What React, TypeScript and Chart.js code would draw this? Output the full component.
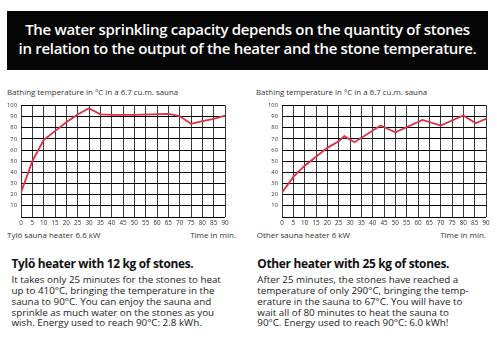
import React, { useEffect, useRef } from "react";
import { Chart, registerables } from "chart.js";

Chart.register(...registerables);

// ---- data ----
const xTicks = [0, 5, 10, 15, 20, 25, 30, 35, 40, 45, 50, 55, 60, 65, 70, 75, 80, 85, 90];
const yTicks = [10, 20, 30, 40, 50, 60, 70, 80, 90, 100];

const tyloTimes = [0, 5, 10, 15, 20, 25, 30, 35, 40, 50, 65, 70, 75, 80, 85, 90];
const tyloTemps = [22, 50, 69, 77, 85, 92, 97.5, 92, 91.5, 91.5, 92.5, 90.5, 83.5, 86, 88, 91];

const otherTimes = [0, 5, 10, 15, 20, 25, 27.5, 32, 43.5, 50, 62, 70, 80, 85.5, 90];
const otherTemps = [22, 36, 46, 54, 62, 68, 72.5, 67, 82, 76, 87, 82, 91, 84, 88];

const bannerLines = [
  "The water sprinkling capacity depends on the quantity of stones",
  "in relation to the output of the heater and the stone temperature.",
];
const chartTitle = "Bathing temperature in \u00B0C in a 6.7 cu.m. sauna";
const leftCaption = "Tyl\u00F6 sauna heater 6.6 kW";
const rightCaption = "Other sauna heater 6 kW";
const axisCaption = "Time in min.";
const leftHeading = "Tyl\u00F6 heater with 12 kg of stones.";
const rightHeading = "Other heater with 25 kg of stones.";
const leftBody = [
  "It takes only 25 minutes for the stones to heat",
  "up to 410\u00B0C, bringing the temperature in the",
  "sauna to 90\u00B0C. You can enjoy the sauna and",
  "sprinkle as much water on the stones as you",
  "wish. Energy used to reach 90\u00B0C: 2.8 kWh.",
];
const rightBody = [
  "After 25 minutes, the stones have reached a",
  "temperature of only 290\u00B0C, bringing the temp-",
  "erature in the sauna to 67\u00B0C. You will have to",
  "wait all of 80 minutes to heat the sauna to",
  "90\u00B0C. Energy used to reach 90\u00B0C: 6.0 kWh!",
];

const FONT = "'Open Sans', 'Noto Sans', sans-serif";

function TempChart({ times, temps, left }: { times: number[]; temps: number[]; left: number }) {
  const ref = useRef<HTMLCanvasElement | null>(null);
  useEffect(() => {
    if (!ref.current) return;
    const chart = new Chart(ref.current, {
      type: "line",
      data: {
        datasets: [
          {
            data: times.map((t, i) => ({ x: t, y: temps[i] })),
            borderColor: "#de2f45",
            borderWidth: 1.8,
            pointRadius: 0,
            tension: 0,
            fill: false,
          },
        ],
      },
      options: {
        animation: false,
        responsive: false,
        maintainAspectRatio: false,
        layout: { padding: { left: 0, right: 10, top: 6, bottom: 0 } },
        plugins: { legend: { display: false }, tooltip: { enabled: false }, title: { display: false } },
        scales: {
          x: {
            type: "linear",
            min: 0,
            max: 90,
            afterBuildTicks: (s: any) => {
              s.ticks = xTicks.map((v) => ({ value: v }));
            },
            afterFit: (s: any) => {
              s.height = 11;
            },
            grid: { color: "#3a3a3a", lineWidth: 1, drawTicks: false },
            border: { display: false },
            ticks: {
              padding: 2,
              color: "#333",
              font: { family: FONT, size: 6.3 },
              maxRotation: 0,
              autoSkip: false,
              callback: (v: any) => String(v),
            },
          },
          y: {
            type: "linear",
            min: 0,
            max: 100,
            afterBuildTicks: (s: any) => {
              s.ticks = [0, ...yTicks].map((v) => ({ value: v }));
            },
            afterFit: (s: any) => {
              s.width = 21;
            },
            grid: { color: "#000", lineWidth: 1, drawTicks: false },
            border: { display: false },
            ticks: {
              padding: 4,
              color: "#333",
              font: { family: FONT, size: 5.8 },
              autoSkip: false,
              callback: (v: any) => (v === 0 ? "" : String(v)),
            },
          },
        },
      },
    });
    return () => chart.destroy();
  }, [times, temps]);
  return (
    <canvas
      ref={ref}
      width={235}
      height={130}
      style={{ position: "absolute", left, top: 98, width: 235, height: 130 }}
    />
  );
}

const abs = (l: number, t: number, extra: any = {}) => ({ position: "absolute" as const, left: l, top: t, ...extra });

export default function App() {
  return (
    <div
      style={{
        position: "fixed",
        left: 0,
        top: 0,
        width: 497,
        height: 344,
        background: "#fff",
        overflow: "hidden",
        fontFamily: FONT,
        color: "#222",
      }}
    >
      <div
        style={abs(7, 11, {
          width: 481,
          height: 59,
          background: "#050505",
          color: "#fff",
          textAlign: "center",
          fontWeight: 600,
          fontSize: 15,
          lineHeight: "19.3px",
          paddingTop: 9,
          boxSizing: "border-box",
          letterSpacing: -0.3,
          whiteSpace: "nowrap",
        })}
      >
        {bannerLines.map((l, i) => (
          <div key={i}>{l}</div>
        ))}
      </div>

      <div style={abs(7, 87, { fontSize: 7.9, lineHeight: "10px", color: "#333", whiteSpace: "nowrap" })}>{chartTitle}</div>
      <div style={abs(256, 87, { fontSize: 7.9, lineHeight: "10px", color: "#333", whiteSpace: "nowrap" })}>{chartTitle}</div>

      <TempChart times={tyloTimes} temps={tyloTemps} left={0} />
      <TempChart times={otherTimes} temps={otherTemps} left={261} />

      <div style={abs(7, 230, { fontSize: 8, lineHeight: "10px", color: "#333", whiteSpace: "nowrap" })}>{leftCaption}</div>
      <div style={abs(7, 230, { width: 229, textAlign: "right", fontSize: 8, lineHeight: "10px", color: "#333", whiteSpace: "nowrap" })}>{axisCaption}</div>
      <div style={abs(256.7, 230, { fontSize: 8, lineHeight: "10px", color: "#333", whiteSpace: "nowrap" })}>{rightCaption}</div>
      <div style={abs(256.7, 230, { width: 229.3, textAlign: "right", fontSize: 8, lineHeight: "10px", color: "#333", whiteSpace: "nowrap" })}>{axisCaption}</div>

      <div style={abs(11.5, 255.5, { fontSize: 11.9, fontWeight: 700, lineHeight: "14px", color: "#111", whiteSpace: "nowrap", letterSpacing: -0.3 })}>{leftHeading}</div>
      <div style={abs(257.3, 255.5, { fontSize: 11.9, fontWeight: 700, lineHeight: "14px", color: "#111", whiteSpace: "nowrap", letterSpacing: -0.3 })}>{rightHeading}</div>

      <div style={abs(11.5, 275, { fontSize: 9.8, lineHeight: "10.85px", color: "#1a1a1a", whiteSpace: "nowrap" })}>
        {leftBody.map((l, i) => (
          <div key={i}>{l}</div>
        ))}
      </div>
      <div style={abs(257.3, 275, { fontSize: 9.8, lineHeight: "10.85px", color: "#1a1a1a", whiteSpace: "nowrap" })}>
        {rightBody.map((l, i) => (
          <div key={i}>{l}</div>
        ))}
      </div>
    </div>
  );
}
